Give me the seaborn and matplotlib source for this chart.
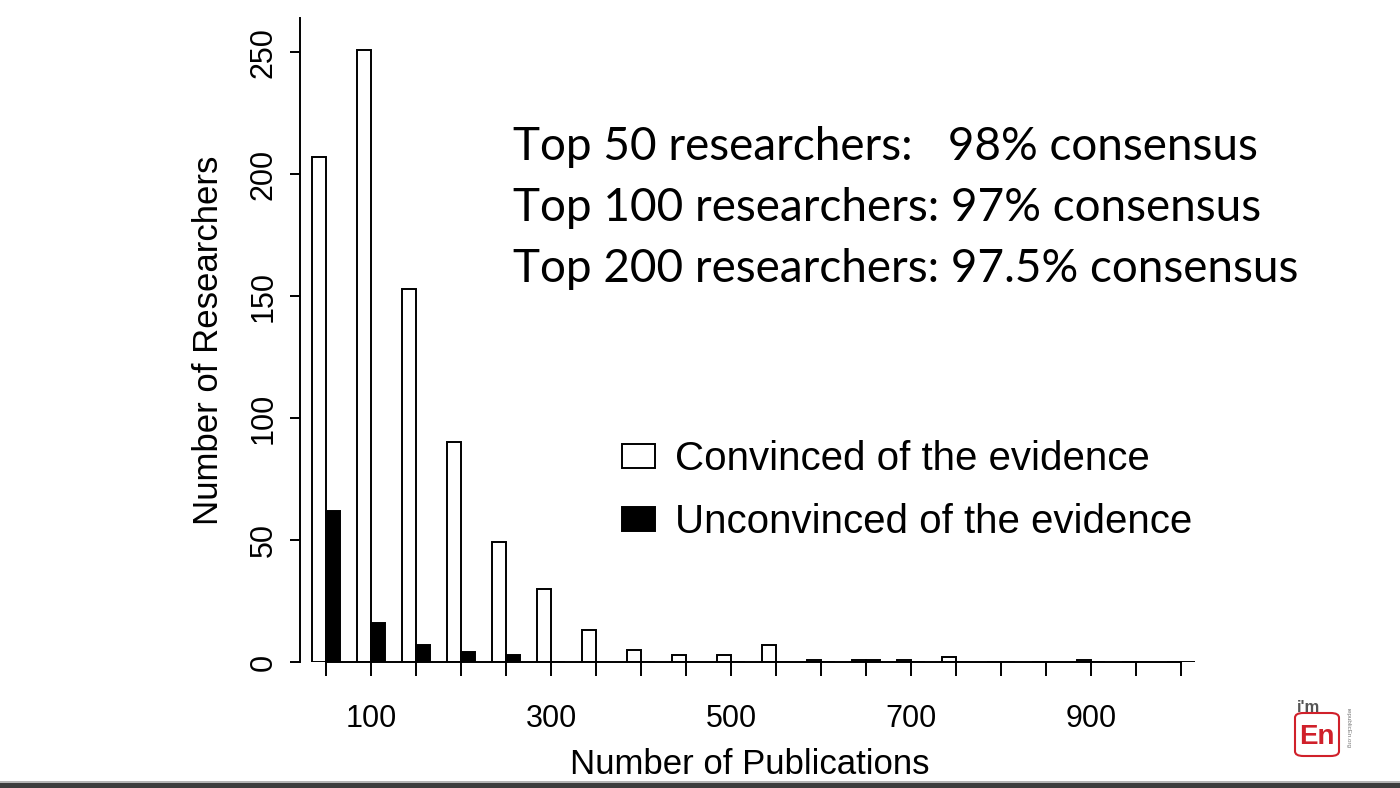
"""Histogram of publication counts: convinced vs unconvinced researchers."""

import pandas as pd
import matplotlib
matplotlib.use('Agg')
import matplotlib.pyplot as plt
from matplotlib.patches import Patch, Rectangle, FancyBboxPatch
import seaborn as sns

# Data (bins of 50 publications)
pub_bins = [50, 100, 150, 200, 250, 300, 350, 400, 450, 500,
            550, 600, 650, 700, 750, 800, 850, 900, 950, 1000]
convinced = [207, 251, 153, 90, 49, 30, 13, 5, 3, 3,
             7, 1, 1, 1, 2, 0, 0, 1, 0, 0]
unconvinced = [62, 16, 7, 4, 3, 0, 0, 0, 0, 0,
               0, 0, 1, 0, 0, 0, 0, 0, 0, 0]
labelled_ticks = [100, 300, 500, 700, 900]
y_ticks = [0, 50, 100, 150, 200, 250]
group_names = ['Convinced of the evidence', 'Unconvinced of the evidence']
consensus_lines = ['Top 50 researchers:   98% consensus',
                   'Top 100 researchers: 97% consensus',
                   'Top 200 researchers: 97.5% consensus']

sns.set_style("white")
plt.rcParams['font.family'] = ['Liberation Sans', 'DejaVu Sans']
plt.rcParams['text.color'] = 'black'
plt.rcParams['axes.labelcolor'] = 'black'
plt.rcParams['xtick.color'] = 'black'
plt.rcParams['ytick.color'] = 'black'

df = pd.DataFrame({
    'bin': pub_bins * 2,
    'count': convinced + unconvinced,
    'group': [group_names[0]] * len(pub_bins) + [group_names[1]] * len(pub_bins),
})

W, H = 1400, 788
fig = plt.figure(figsize=(14, 7.88), dpi=100)
ax = fig.add_axes([300 / W, (H - 662) / H, (1200 - 300) / W, (662 - 18) / H])

sns.barplot(data=df, x='bin', y='count', hue='group', hue_order=group_names,
            palette={group_names[0]: 'white', group_names[1]: 'black'},
            edgecolor='black', linewidth=1.4, width=0.62, dodge=True,
            errorbar=None, legend=False, ax=ax)

ax.set_xlim(-0.578, 19.42)
ax.set_ylim(0, 264)

# x ticks at every bin, labels only at every 200
ax.set_xticks(range(len(pub_bins)))
ax.set_xticklabels([str(b) if b in labelled_ticks else '' for b in pub_bins])
ax.set_yticks(y_ticks)
ax.set_yticklabels([str(v) for v in y_ticks], rotation=90, va='center')

ax.tick_params(axis='x', direction='out', length=10, width=1.4, pad=20,
               labelsize=22, bottom=True)
ax.tick_params(axis='y', direction='out', length=7.5, width=1.4, pad=8,
               labelsize=22, left=True)

for side in ['top', 'right']:
    ax.spines[side].set_visible(False)
ax.spines['left'].set_linewidth(1.4)
ax.spines['left'].set_color('black')
ax.spines['bottom'].set_linewidth(1.4)
ax.spines['bottom'].set_color('black')
ax.spines['bottom'].set_bounds(0, len(pub_bins) - 1)

ax.set_xlabel('Number of Publications', fontsize=25, labelpad=10)
ax.set_ylabel('Number of Researchers', fontsize=25, labelpad=17)

# Legend
handles = [Patch(facecolor='white', edgecolor='black', linewidth=1.4),
           Patch(facecolor='black', edgecolor='black', linewidth=1.4)]
fig.legend(handles, group_names, loc='upper left',
           bbox_to_anchor=(622 / W, 1 - 440 / H), frameon=False,
           fontsize=29, handlelength=0.82, handleheight=0.55,
           handletextpad=0.5, labelspacing=0.62, borderpad=0, borderaxespad=0,
           labelcolor='black')

# Consensus text
for i, line in enumerate(consensus_lines):
    fig.text(513 / W, 1 - (160 + 61 * i) / H, line, fontsize=33,
             family=['Lato', 'DejaVu Sans'], ha='left', va='baseline',
             color='black')

# Bottom slide border
fig.patches.append(Rectangle((0, 0), 1, 5 / H, transform=fig.transFigure,
                             facecolor='#3c3c3c', edgecolor='none'))
fig.patches.append(Rectangle((0, 5 / H), 1, 2 / H, transform=fig.transFigure,
                             facecolor='#b5b5b5', edgecolor='none'))

# Logo
fig.patches.append(FancyBboxPatch((1295 / W, 1 - 756 / H), 44 / W, 43 / H,
                                  boxstyle='round,pad=0,rounding_size=0.006',
                                  transform=fig.transFigure, facecolor='white',
                                  edgecolor='#d0202a', linewidth=1.5))
fig.text(1317 / W, 1 - 737 / H, 'En', fontsize=20, fontweight='bold',
         color='#d0202a', ha='center', va='center')
fig.text(1309 / W, 1 - 708 / H, "i'm", fontsize=12, fontweight='bold',
         color='#555555', ha='center', va='center')
fig.text(1348 / W, 1 - 728 / H, 'republicEn.org', fontsize=4.5,
         color='#777777', rotation=270, ha='center', va='center')

fig.savefig('out.png', dpi=100)
plt.close(fig)
